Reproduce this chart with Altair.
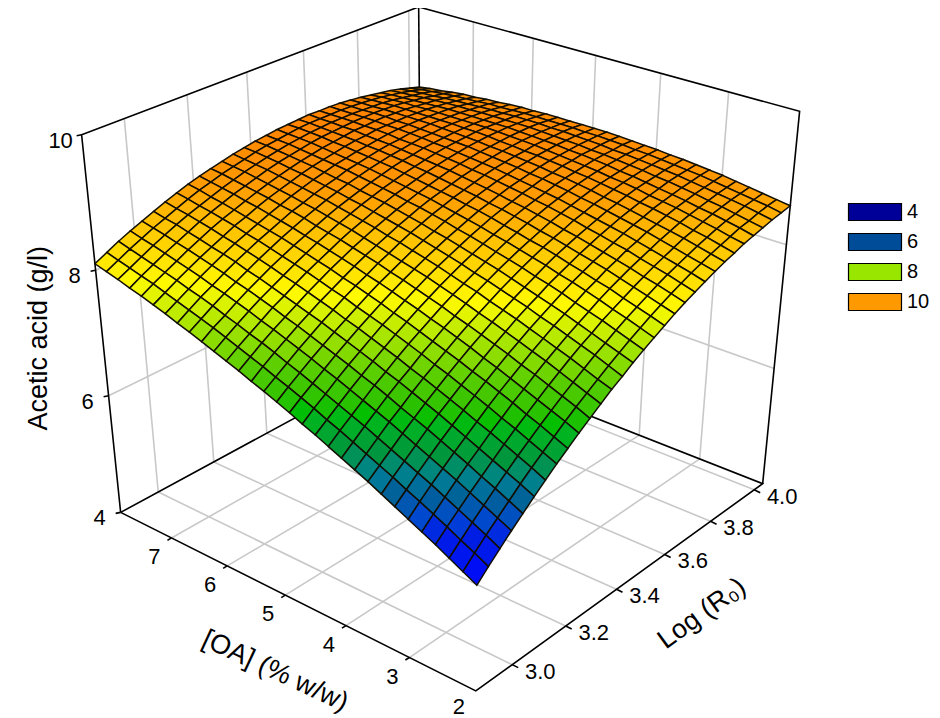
import altair as alt, numpy as np

OA_RANGE = (2.0, 7.95)
R_RANGE = (2.87, 4.04)
Z_RANGE = (4.0, 10.0)
OA_TICKS = [2, 3, 4, 5, 6, 7]
R_TICKS = [3.0, 3.2, 3.4, 3.6, 3.8, 4.0]
Z_TICKS = [4, 6, 8, 10]
CAMERA = np.array([[-338.47458, 410.59759, -54.35522, 475.8013],
                   [-107.6702, -128.8082, -446.27257, 690.93237],
                   [0.13831, 0.16224, -0.12168, 1.0]])
# acetic acid in hundredths of g/l: one row per [OA] grid step, one column per Log(R0) grid step
Z_RAW = [
[569,586,602,618,633,648,662,676,689,702,714,726,738,748,759,769,778,787,796,804,811,818,825,831,836,842,846,850,854,857,860],
[580,597,613,628,643,658,672,685,698,711,723,734,745,756,766,776,785,794,802,810,817,824,830,836,841,846,851,854,858,861,863],
[591,607,623,638,653,667,681,694,707,719,731,742,753,764,773,783,792,800,808,816,823,829,835,841,846,851,855,858,862,864,866],
[602,618,633,648,662,676,690,703,715,727,739,750,761,771,780,790,798,806,814,821,828,834,840,846,850,855,859,862,865,867,869],
[612,628,643,658,672,685,699,711,724,735,747,758,768,778,787,796,805,813,820,827,833,839,845,850,855,859,862,865,868,870,872],
[622,638,653,667,681,694,707,720,732,743,754,765,775,785,794,802,811,818,826,832,839,844,850,854,859,863,866,869,871,873,875],
[632,647,662,676,690,703,716,728,740,751,762,772,782,791,800,809,817,824,831,837,843,849,854,858,863,866,869,872,874,876,877],
[642,657,671,685,699,712,724,736,747,758,769,779,789,798,806,815,822,829,836,842,848,853,858,862,866,869,872,875,877,878,879],
[652,666,680,694,707,720,732,744,755,766,776,786,795,804,812,820,828,835,841,847,852,857,862,866,870,873,875,877,879,880,881],
[661,675,689,703,715,728,740,751,762,773,783,792,801,810,818,826,833,840,846,851,857,861,866,869,873,876,878,880,881,882,882],
[670,684,698,711,724,736,747,759,769,780,789,799,808,816,824,831,838,844,850,856,861,865,869,873,876,878,880,882,883,884,884],
[679,693,706,719,732,743,755,766,776,786,796,805,813,821,829,836,843,849,855,860,865,869,873,876,879,881,883,884,885,885,885],
[688,701,714,727,739,751,762,773,783,793,802,811,819,827,834,841,847,853,859,864,868,872,876,879,881,883,885,886,886,887,886],
[696,710,722,735,747,758,769,780,789,799,808,817,825,832,839,846,852,858,863,867,872,875,879,881,884,885,887,887,888,888,887],
[705,718,730,742,754,765,776,786,796,805,814,822,830,837,844,850,856,862,866,871,875,878,881,884,886,887,888,889,889,889,888],
[713,726,738,750,761,772,782,792,802,811,819,827,835,842,848,855,860,865,870,874,878,881,884,886,888,889,890,890,890,889,888],
[721,733,745,757,768,779,789,799,808,816,825,832,840,847,853,859,864,869,873,877,881,884,886,888,889,891,891,891,891,890,888],
[728,741,753,764,775,785,795,804,813,822,830,837,844,851,857,863,868,872,876,880,883,886,888,890,891,892,892,892,891,890,888],
[736,748,760,771,781,791,801,810,819,827,835,842,849,855,861,866,871,875,879,883,886,888,890,891,892,893,893,893,892,890,888],
[743,755,766,777,788,797,807,816,824,832,840,847,853,859,865,870,874,878,882,885,888,890,892,893,894,894,894,893,892,890,888],
[750,762,773,784,794,803,812,821,829,837,844,851,857,863,868,873,877,881,884,887,890,892,893,894,895,895,894,893,892,890,887],
[757,769,779,790,800,809,818,826,834,841,848,855,861,866,871,876,880,884,887,889,892,893,894,895,895,895,894,893,891,889,887],
[764,775,786,796,805,814,823,831,839,846,853,859,865,870,875,879,883,886,889,891,893,895,895,896,896,895,894,893,891,888,886],
[770,781,792,801,811,820,828,836,843,850,857,862,868,873,877,882,885,888,891,893,894,896,896,897,896,895,894,892,890,888,884],
[777,787,797,807,816,825,833,840,847,854,860,866,871,876,880,884,887,890,892,894,896,897,897,897,896,895,894,892,889,886,883],
[783,793,803,812,821,829,837,845,851,858,864,869,874,879,883,886,889,892,894,895,897,897,897,897,896,895,893,891,888,885,881],
[789,799,808,817,826,834,842,849,855,861,867,872,877,881,885,888,891,893,895,897,897,898,898,897,896,894,892,890,887,884,880],
[794,804,813,822,830,838,846,853,859,865,870,875,880,884,887,890,893,895,896,897,898,898,898,897,896,894,891,889,885,882,878],
[800,809,818,827,835,843,850,856,862,868,873,878,882,886,889,892,894,896,897,898,898,898,897,896,895,893,890,887,884,880,875],
[805,814,823,831,839,846,853,860,866,871,876,880,884,888,891,893,895,897,898,898,898,898,897,896,894,892,889,886,882,878,873],
[810,819,828,836,843,850,857,863,869,874,878,882,886,889,892,894,896,897,898,899,898,898,897,895,893,890,887,884,880,875,870],
]
COLOR_Z = [5.7, 6.13, 6.43, 6.78, 7.08, 7.4, 7.72, 8.0, 8.25, 8.5, 8.7, 9.0]
COLOR_RANGE = ["#0000ff", "#001ee1", "#005f96", "#00963c", "#00be00", "#55cd00", "#aae600", "#fffa00", "#ffd700", "#ffb900", "#ff9b00", "#ff8200"]
LEG_LABELS = ["4", "6", "8", "10"]
LEG_COLORS = ["#000099", "#004c99", "#99e600", "#ff9900"]
FONT = "Liberation Sans"

def pr(oa, r, z):
    u = (oa-OA_RANGE[0])/(OA_RANGE[1]-OA_RANGE[0])
    v = (r-R_RANGE[0])/(R_RANGE[1]-R_RANGE[0])
    w = (z-Z_RANGE[0])/(Z_RANGE[1]-Z_RANGE[0])
    h = CAMERA @ np.array([u, v, w, 1.0])
    return [float(h[0]/h[2]), float(h[1]/h[2])]

PROJ = dict(type="identity", scale=1, translate=[-8, -8])

def feat(coords, kind="LineString", **props):
    c = [coords] if kind == "Polygon" else coords
    return {"type": "Feature", "geometry": {"type": kind, "coordinates": c}, "properties": props}

def geo(features):
    return alt.InlineData(values={"type": "FeatureCollection", "features": features},
                          format=alt.DataFormat(property="features", type="json"))

o0, o1 = OA_RANGE; r0, r1 = R_RANGE; z0, z1 = Z_RANGE
grid = []
for o in OA_TICKS[1:]:
    grid.append(feat([pr(o, r0, z0), pr(o, r1, z0), pr(o, r1, z1)]))
for r in R_TICKS:
    grid.append(feat([pr(o0, r, z0), pr(o1, r, z0), pr(o1, r, z1)]))
for z in Z_TICKS[1:3]:
    grid.append(feat([pr(o1, r0, z), pr(o1, r1, z), pr(o0, r1, z)]))
grid_l = alt.Chart(geo(grid)).mark_geoshape(filled=False, stroke="#c8c8c8", strokeWidth=1.6).project(**PROJ)

box = [feat([pr(o1, r0, z0), pr(o0, r0, z0), pr(o0, r1, z0), pr(o1, r1, z0), pr(o1, r0, z0)]),
       feat([pr(o1, r0, z0), pr(o1, r0, z1), pr(o1, r1, z1), pr(o0, r1, z1), pr(o0, r1, z0)]),
       feat([pr(o1, r1, z1), pr(o1, r1, z0)])]
def off(p, d): return [p[0]+d[0], p[1]+d[1]]
for o in OA_TICKS[1:]:
    p = pr(o, r0, z0); box.append(feat([p, off(p, (-4, 2.5))]))
for r in R_TICKS:
    p = pr(o0, r, z0); box.append(feat([p, off(p, (6, 3))]))
for z in Z_TICKS:
    p = pr(o1, r0, z); box.append(feat([p, off(p, (-5, 1))]))
box_l = alt.Chart(geo(box)).mark_geoshape(filled=False, stroke="black", strokeWidth=1.6).project(**PROJ)

oa_grid = [o0+(o1-o0)*i/30 for i in range(31)]
r_grid = [r0+(r1-r0)*j/30 for j in range(31)]
cells = []
for s in range(58, -1, -1):
    for i in range(30):
        j = s-i
        if 0 <= j < 30:
            corners = [(i, j), (i+1, j), (i+1, j+1), (i, j+1), (i, j)]
            poly = [pr(oa_grid[a], r_grid[b], Z_RAW[a][b]/100) for a, b in corners]
            cells.append(feat(poly, "Polygon", z=(Z_RAW[i][j]+Z_RAW[i+1][j]+Z_RAW[i][j+1]+Z_RAW[i+1][j+1])/400))
surf = alt.Chart(geo(cells)).mark_geoshape(stroke="#120e00", strokeWidth=1.5).encode(
    color=alt.Color("properties.z:Q", legend=None,
                    scale=alt.Scale(domain=COLOR_Z, range=COLOR_RANGE))).project(**PROJ)

rows = []
for o in OA_TICKS:
    p = off(pr(o, r0, z0), (-17, 16 if o == 2 else 19)); rows.append(dict(lon=p[0], lat=p[1], t=str(o)))
for r in R_TICKS:
    p = off(pr(o0, r, z0), (28, 7)); rows.append(dict(lon=p[0], lat=p[1], t=f"{r:.1f}"))
for z in Z_TICKS:
    p = off(pr(o1, r0, z), (-21, 6)); rows.append(dict(lon=p[0], lat=p[1], t=str(z)))
txt = alt.Chart(alt.Data(values=rows)).mark_text(font=FONT, color="black", fontSize=22).encode(
    longitude="lon:Q", latitude="lat:Q", text="t:N").project(**PROJ)

def title(t, o, r, z, d, angle, size):
    p = off(pr(o, r, z), d)
    return alt.Chart(alt.Data(values=[dict(lon=p[0], lat=p[1], t=t)])).mark_text(
        font=FONT, color="black", fontSize=size, angle=angle).encode(
        longitude="lon:Q", latitude="lat:Q", text="t:N").project(**PROJ)

t1 = title("Acetic acid (g/l)", o1, r0, 7, (-63, 4), 270, 27)
t2 = title("[OA] (% w/w)", 4.5, r0, z0, (-40, 61), 25, 27)
t3 = title("Log (R\u2080)", o0, 3.5, z0, (61, 42), 324, 27)

legdf = [dict(lon=870, lat=250, k=k) for k in LEG_LABELS]
leg = alt.Chart(alt.Data(values=legdf)).mark_point(filled=True, size=1, opacity=0).encode(
    longitude="lon:Q", latitude="lat:Q",
    color=alt.Color("k:N", sort=None, scale=alt.Scale(domain=LEG_LABELS, range=LEG_COLORS),
                    legend=alt.Legend(title=None, orient="none", legendX=853, legendY=190,
                                      symbolType="M-2,-0.64H2V0.64H-2Z", symbolSize=702,
                                      symbolStrokeColor="black", symbolStrokeWidth=1.2,
                                      symbolOpacity=1, labelFont=FONT, labelFontSize=20,
                                      labelColor="black", rowPadding=5, labelOffset=18))).project(**PROJ)

chart = alt.layer(grid_l, box_l, surf, txt, t1, t2, t3, leg).resolve_scale(color="independent").properties(
    width=924, height=710, padding=0, autosize=alt.AutoSizeParams(type="none")
).configure_view(stroke=None)
chart.save("out.html", embed_options={"renderer": "svg", "actions": False})
